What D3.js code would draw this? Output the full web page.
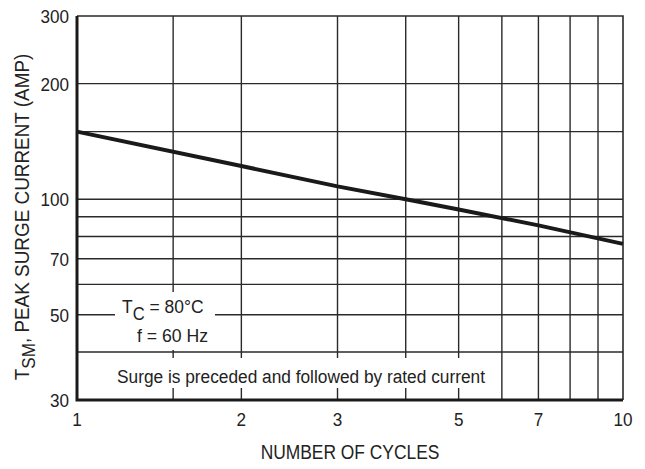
<!DOCTYPE html>
<html>
<head>
<meta charset="utf-8">
<script src="https://cdn.jsdelivr.net/npm/d3@7"></script>
<style>
  body { margin: 0; background: #fff; }
  svg text { font-family: "Liberation Sans Narrow", "Arial Narrow", "Liberation Sans", sans-serif; fill: #222; }
</style>
</head>
<body>
<div id="chart"></div>
<script>
// values
var cycles = [1, 2, 3, 4, 5, 7, 10];
var surgeAmps = [150, 122, 108, 100, 94, 85.5, 76.5];

var xTicks = [1, 2, 3, 5, 7, 10];
var yTicks = [30, 50, 70, 100, 200, 300];
var xGrid = [1.5, 2, 3, 4, 5, 6, 7, 8, 9];
var yGrid = [40, 50, 60, 70, 80, 90, 100, 150, 200];

var width = 645, height = 469;
var margin = {top: 16, right: 22, bottom: 69, left: 77};

var svg = d3.select('#chart').append('svg').attr('width', width).attr('height', height);

var x = d3.scaleLog().domain([1, 10]).range([margin.left, width - margin.right]);
var y = d3.scaleLog().domain([30, 300]).range([height - margin.bottom, margin.top]);

var lineColor = '#2a2a2a';

// the original font is a condensed sans, so squeeze the text horizontally
function label(parent, px, py, size, sx, anchor, rot) {
  return parent.append('text')
    .attr('transform', 'translate(' + px + ',' + py + ')' + (rot ? ' rotate(' + rot + ')' : '') + ' scale(' + sx + ',1)')
    .attr('text-anchor', anchor || 'start')
    .style('font-size', size + 'px');
}

// grid
svg.append('g').selectAll('line').data(xGrid).enter().append('line')
  .attr('x1', d => x(d)).attr('x2', d => x(d))
  .attr('y1', y(300)).attr('y2', y(30))
  .attr('stroke', lineColor).attr('stroke-width', 1.4);

svg.append('g').selectAll('line').data(yGrid).enter().append('line')
  .attr('x1', x(1)).attr('x2', x(10))
  .attr('y1', d => y(d)).attr('y2', d => y(d))
  .attr('stroke', lineColor).attr('stroke-width', 1.4);

// top + right border (thin)
svg.append('path')
  .attr('d', 'M' + x(1) + ',' + y(300) + 'H' + x(10) + 'V' + y(30))
  .attr('fill', 'none').attr('stroke', lineColor).attr('stroke-width', 1.6);

// surge curve
var line = d3.line().x((d, i) => x(cycles[i])).y(d => y(d));
svg.append('path').datum(surgeAmps)
  .attr('d', line)
  .attr('fill', 'none').attr('stroke', '#1a1a1a').attr('stroke-width', 4);

// annotation boxes (white, hide grid behind)
svg.append('rect').attr('x', 115).attr('y', 292).attr('width', 100).attr('height', 58).attr('fill', '#fff');
svg.append('rect').attr('x', 113).attr('y', 358).attr('width', 379).attr('height', 30).attr('fill', '#fff');

var t1 = label(svg, 122, 313, 19, 0.92);
t1.append('tspan').text('T');
t1.append('tspan').attr('dy', 7).style('font-size', '18px').text('C');
t1.append('tspan').attr('dy', -7).text(' = 80\u00B0C');

label(svg, 137, 342, 19, 0.93).text('f = 60 Hz');

label(svg, 117, 383, 19, 0.91).text('Surge is preceded and followed by rated current');

// left + bottom axis (thick)
svg.append('path')
  .attr('d', 'M' + x(1) + ',' + y(300) + 'V' + y(30) + 'H' + x(10))
  .attr('fill', 'none').attr('stroke', '#1a1a1a').attr('stroke-width', 3);

// tick labels
yTicks.forEach(function(d) {
  label(svg, margin.left - 8, y(d) + 7, 19, 0.9, 'end').text(d);
});

xTicks.forEach(function(d) {
  label(svg, x(d), y(30) + 26, 19, 0.9, 'middle').text(d);
});

// axis titles
label(svg, (x(1) + x(10)) / 2, height - 10, 20, 0.87, 'middle').text('NUMBER OF CYCLES');

var yt = label(svg, 29, (y(30) + y(300)) / 2 + 9, 21, 0.9, 'middle', -90);
yt.append('tspan').text('T');
yt.append('tspan').attr('dy', 6).style('font-size', '19px').text('SM');
yt.append('tspan').attr('dy', -6).text(', PEAK SURGE CURRENT (AMP)');
</script>
</body>
</html>
